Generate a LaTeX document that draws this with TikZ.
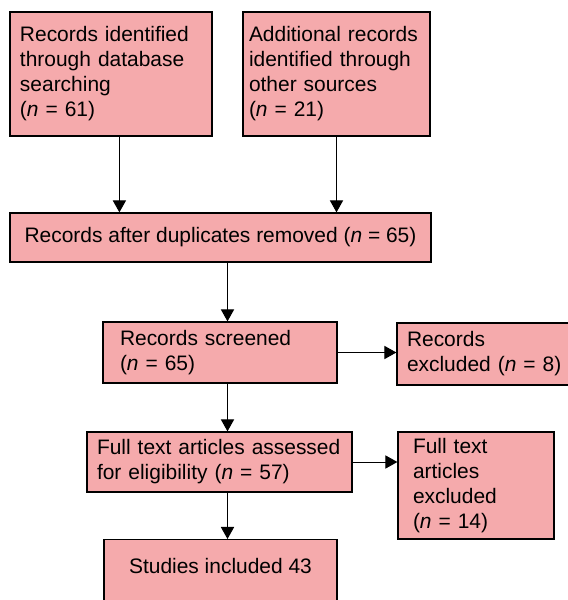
\documentclass[tikz,border=0pt]{standalone}
\usepackage{fontspec}
\setmainfont{Liberation Sans}
\usetikzlibrary{arrows.meta}
\definecolor{boxpink}{RGB}{245,170,172}
\tikzset{
	box/.style={draw, line width=0.9pt, fill=boxpink, align=left, inner ysep=0pt,
		font=\fontsize{14.9}{17.8}\selectfont},
	arrow/.style={line width=0.7pt, -{Triangle[length=0.3cm, width=0.33cm]}}
}
\begin{document}
\begin{tikzpicture}
	\useasboundingbox (0,0) rectangle (14.2,15);
	% Identification
	\node[box, minimum height=3.1cm, inner xsep=0.25cm, text width=4.55cm] at (2.775, 13.15) (dbrec) {Records identified\\through database\\searching\\(\textit{n} = 61)};
	\node[box, minimum height=3.1cm, inner xsep=0.15cm, text width=4.375cm] at (8.4125, 13.15) (othrec) {Additional records\\identified through\\other sources\\(\textit{n} = 21)};
	% Screening
	\node[box, align=center, minimum width=10.525cm, minimum height=1.225cm] at (5.5125, 9.0625) (dedup) {Records after duplicates removed (\textit{n} = 65)};
	\node[box, minimum height=1.525cm, inner xsep=0.425cm, text width=5cm] at (5.5, 6.1875) (screen) {Records screened\\(\textit{n} = 65)};
	\node[box, minimum height=1.55cm, inner xsep=0.25cm, text width=4cm] at (12.175, 6.15) (recex) {Records\\excluded (\textit{n} = 8)};
	% Eligibility
	\node[box, minimum height=1.5cm, inner xsep=0.25cm, text width=6.125cm] at (5.4875, 3.45) (fulltext) {Full text articles assessed\\for eligibility (\textit{n} = 57)};
	\node[box, minimum height=2.675cm, inner xsep=0.375cm, text width=3.15cm] at (11.9, 2.8625) (ftex) {Full text\\articles\\excluded\\(\textit{n} = 14)};
	% Included
	\node[box, anchor=north, align=center, minimum width=5.825cm, inner ysep=0.47cm, text depth=1.5cm] at (5.5125, 1.525) (incl) {Studies included 43};
	% Arrows
	\coordinate (dbout) at ([xshift=0.21cm]dbrec.south);
	\coordinate (spine) at (5.6875, 0);
	\draw[arrow] (dbout) -- (dbout |- dedup.north);
	\draw[arrow] (othrec.south) -- (othrec.south |- dedup.north);
	\draw[arrow] (dedup.south -| spine) -- (screen.north -| spine);
	\draw[arrow] (screen.east) -- (screen.east -| recex.west);
	\draw[arrow] (screen.south -| spine) -- (fulltext.north -| spine);
	\draw[arrow] (fulltext.east) -- (fulltext.east -| ftex.west);
	\draw[arrow] (fulltext.south -| spine) -- (incl.north -| spine);
\end{tikzpicture}
\end{document}
